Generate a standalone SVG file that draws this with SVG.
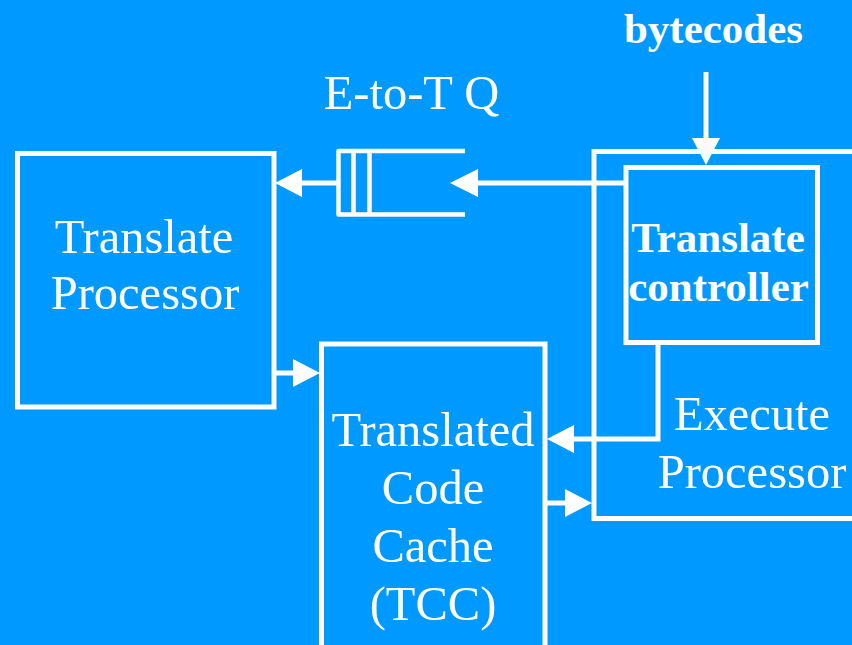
<svg xmlns="http://www.w3.org/2000/svg" width="852" height="645" viewBox="0 0 852 645">
<style>
.box{fill:none;stroke:#fff;stroke-width:5}
.ln{fill:none;stroke:#fff;stroke-width:5}
.hd{fill:#fff;stroke:none}
.t{font-family:"Liberation Serif","Times New Roman",serif;fill:#fff;text-anchor:middle}
.r{font-size:48.5px}
.b{font-size:43px;font-weight:bold}
</style>
<rect width="852" height="645" fill="#0099ff"/>
<g id="execute-processor">
<rect class="box" x="594" y="151.5" width="280" height="367"/>
<text class="t r" x="752" y="430">Execute</text>
<text class="t r" x="752" y="487.5">Processor</text>
</g>
<g id="translate-processor">
<rect class="box" x="17.5" y="153.5" width="256.5" height="253.5"/>
<text class="t r" x="144" y="252.5">Translate</text>
<text class="t r" x="145" y="308.5">Processor</text>
</g>
<g id="translate-controller">
<rect class="box" x="626" y="167.5" width="191.5" height="175"/>
<text class="t b" x="718" y="251.5">Translate</text>
<text class="t b" x="718.5" y="300.5">controller</text>
</g>
<g id="tcc">
<rect class="box" x="321.5" y="344" width="223.5" height="320"/>
<text class="t r" x="433" y="446">Translated</text>
<text class="t r" x="433" y="503.5">Code</text>
<text class="t r" x="433" y="561.5">Cache</text>
<text class="t r" x="433" y="620">(TCC)</text>
</g>
<g id="e-to-t-queue">
<path d="M465 151 H338.5 V214.5 H465" fill="none" stroke="#fff" stroke-width="4.5" stroke-linejoin="round"/>
<line x1="353.5" y1="151" x2="353.5" y2="214.5" stroke="#fff" stroke-width="4.5"/>
<line x1="369.5" y1="151" x2="369.5" y2="214.5" stroke="#fff" stroke-width="4.5"/>
<text class="t r" x="411.5" y="108.5">E-to-T Q</text>
</g>
<g id="bytecodes-label">
<text class="t b" x="713.5" y="43">bytecodes</text>
</g>
<g id="connectors">
<line class="ln" x1="338" y1="183" x2="300" y2="183"/>
<polygon class="hd" points="275,183 302,169 302,197"/>
<line class="ln" x1="626" y1="183" x2="476" y2="183"/>
<polygon class="hd" points="450,183 478,169 478,197"/>
<line class="ln" x1="706" y1="72" x2="706" y2="140"/>
<polygon class="hd" points="706,165 692,138 720,138"/>
<line class="ln" x1="274" y1="373" x2="295" y2="373"/>
<polygon class="hd" points="320,373 293,359 293,387"/>
<polyline class="ln" points="658,343 658,439 572,439"/>
<polygon class="hd" points="547,439 574,425 574,453"/>
<line class="ln" x1="545" y1="503" x2="567" y2="503"/>
<polygon class="hd" points="592,503 565,489 565,517"/>
</g>
</svg>
